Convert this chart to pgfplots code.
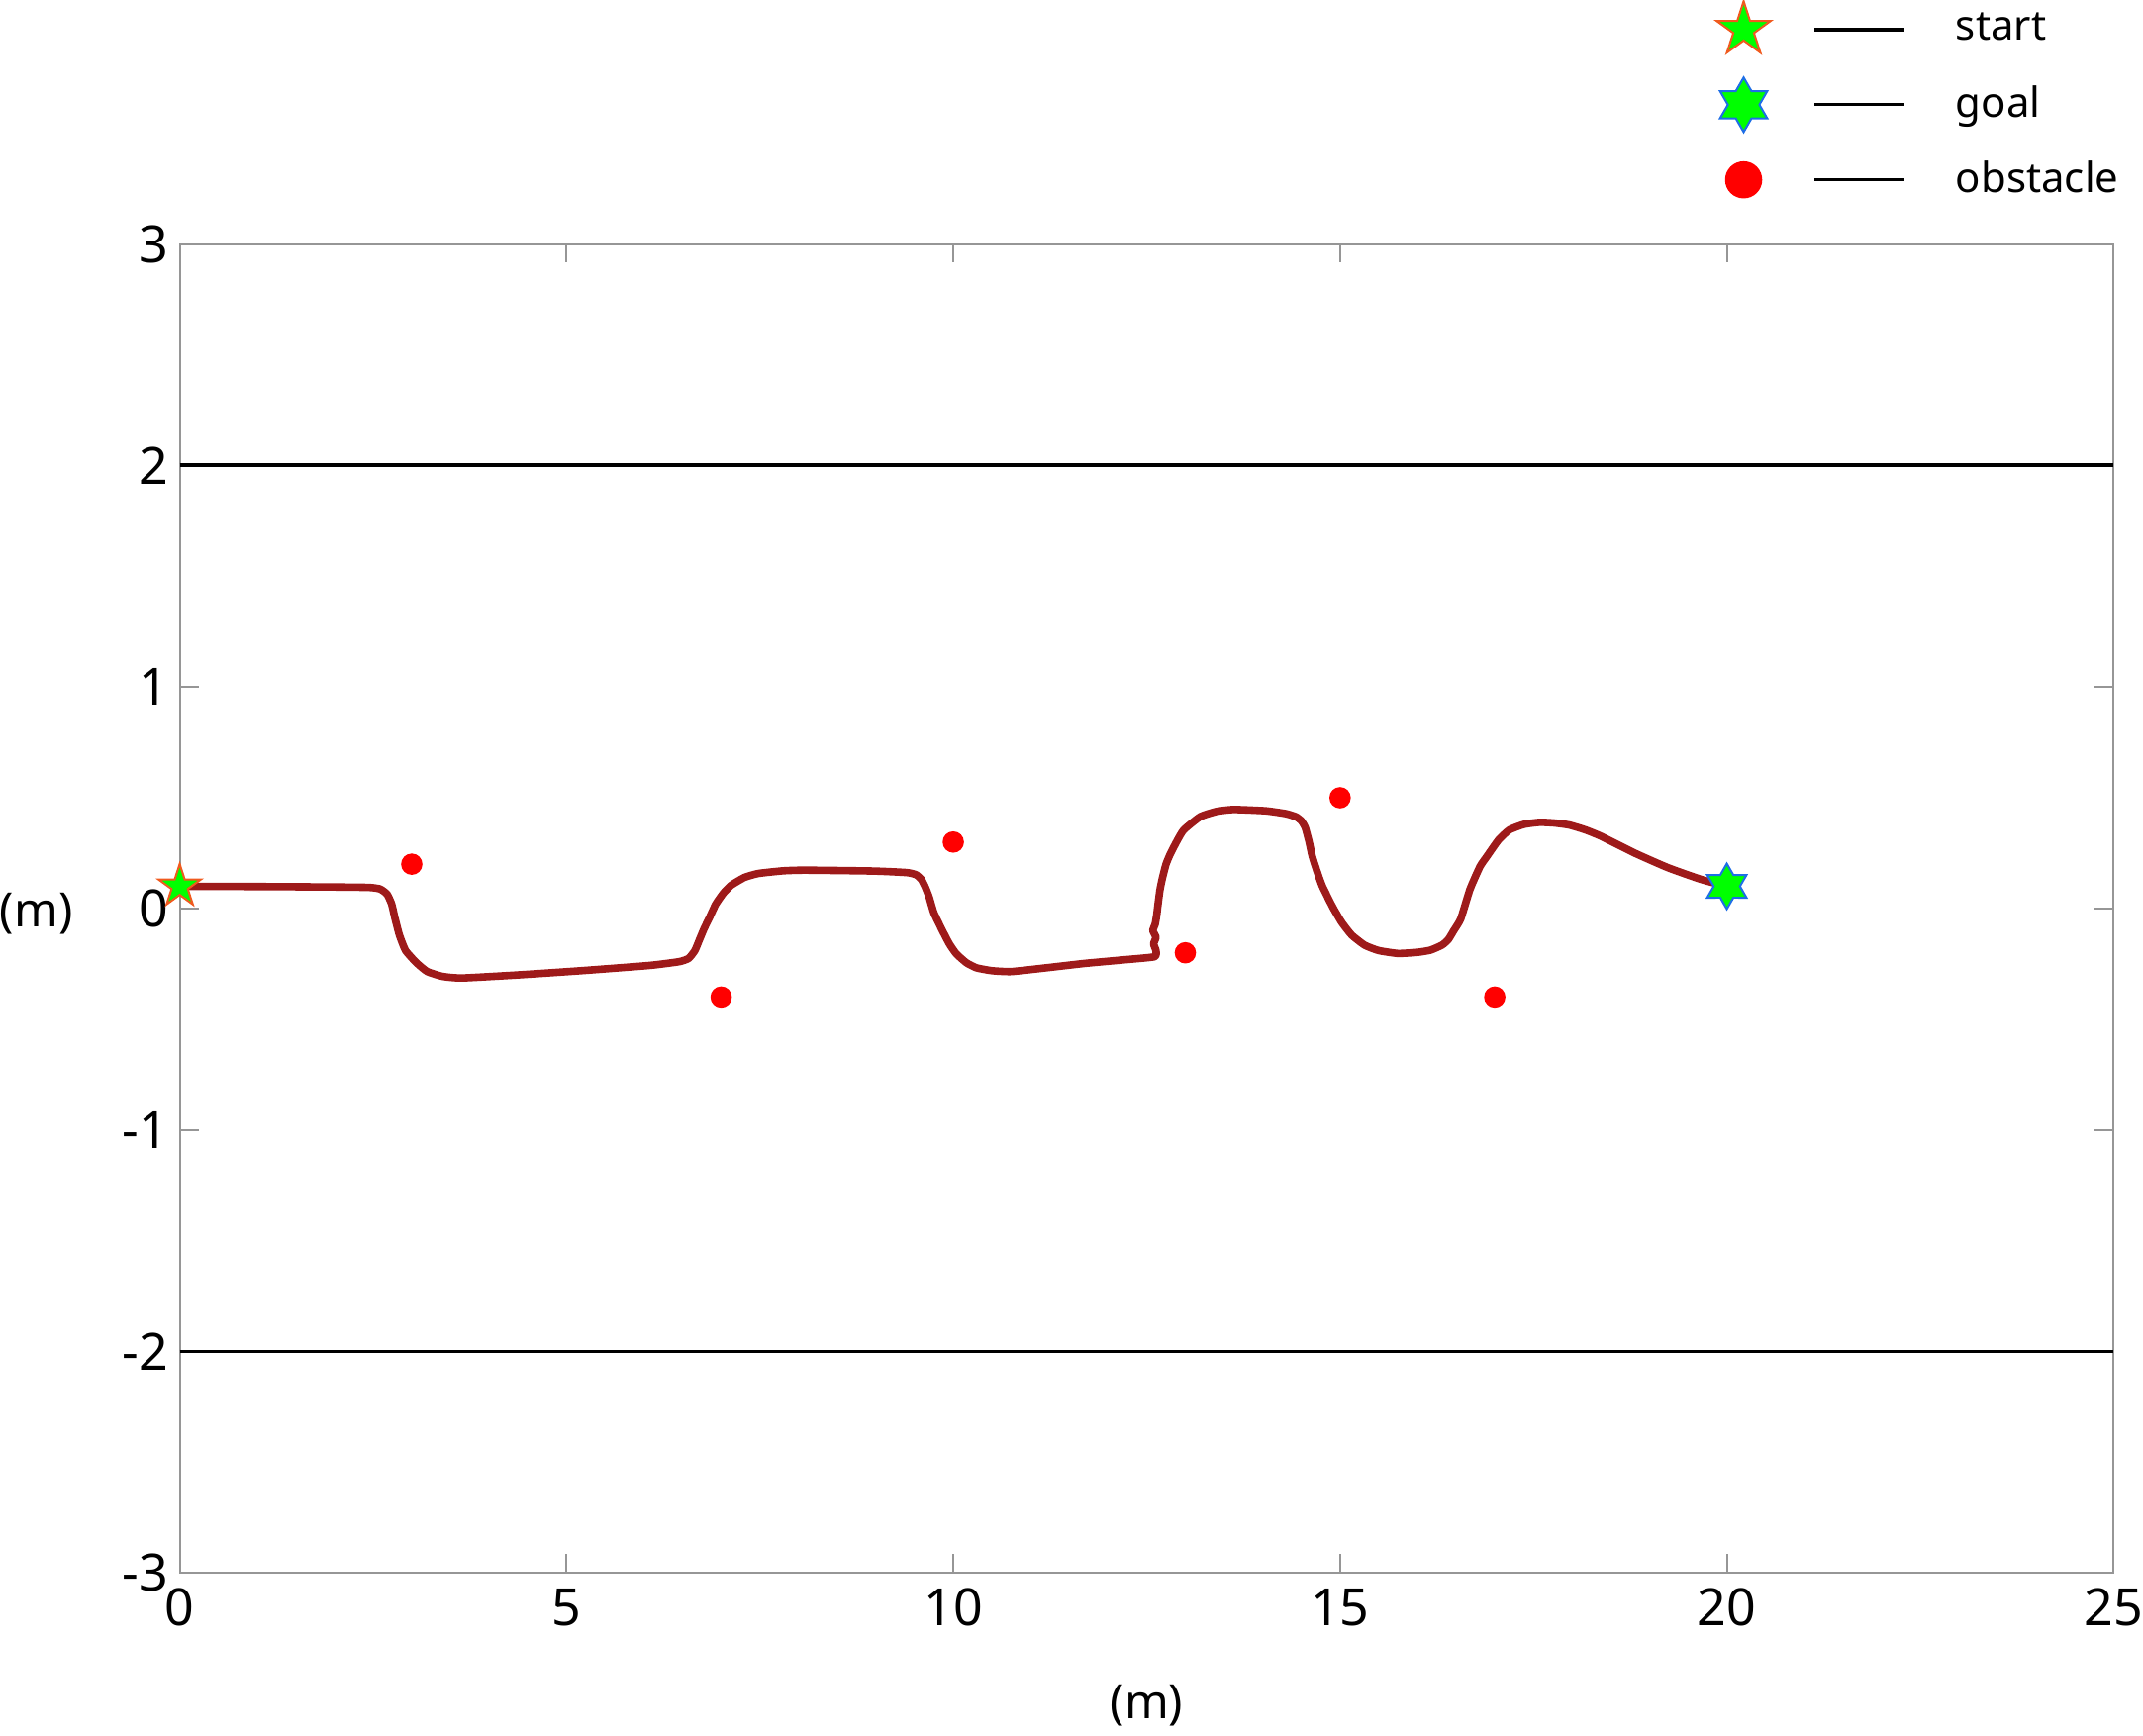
\documentclass[border=0pt]{standalone}
\usepackage{fontspec}
\setmainfont{Noto Sans}
\usepackage{pgfplots}
\pgfplotsset{compat=1.18}

\definecolor{pathred}{RGB}{158,26,26}
\definecolor{obsred}{RGB}{255,0,0}
\definecolor{stargreen}{RGB}{0,255,0}
\definecolor{startedge}{RGB}{240,90,30}
\definecolor{goaledge}{RGB}{30,110,230}
\definecolor{framegray}{RGB}{150,150,150}

% filled five-point star
\pgfdeclareplotmark{pentastar}{%
  \pgfpathmoveto{\pgfpointpolar{90}{\pgfplotmarksize}}%
  \pgfpathlineto{\pgfpointpolar{126}{0.382*\pgfplotmarksize}}%
  \pgfpathlineto{\pgfpointpolar{162}{\pgfplotmarksize}}%
  \pgfpathlineto{\pgfpointpolar{198}{0.382*\pgfplotmarksize}}%
  \pgfpathlineto{\pgfpointpolar{234}{\pgfplotmarksize}}%
  \pgfpathlineto{\pgfpointpolar{270}{0.382*\pgfplotmarksize}}%
  \pgfpathlineto{\pgfpointpolar{306}{\pgfplotmarksize}}%
  \pgfpathlineto{\pgfpointpolar{342}{0.382*\pgfplotmarksize}}%
  \pgfpathlineto{\pgfpointpolar{18}{\pgfplotmarksize}}%
  \pgfpathlineto{\pgfpointpolar{54}{0.382*\pgfplotmarksize}}%
  \pgfpathclose
  \pgfusepathqfillstroke
}
% filled six-point star
\pgfdeclareplotmark{hexastar}{%
  \pgfpathmoveto{\pgfpointpolar{90}{\pgfplotmarksize}}%
  \pgfpathlineto{\pgfpointpolar{120}{0.577*\pgfplotmarksize}}%
  \pgfpathlineto{\pgfpointpolar{150}{\pgfplotmarksize}}%
  \pgfpathlineto{\pgfpointpolar{180}{0.577*\pgfplotmarksize}}%
  \pgfpathlineto{\pgfpointpolar{210}{\pgfplotmarksize}}%
  \pgfpathlineto{\pgfpointpolar{240}{0.577*\pgfplotmarksize}}%
  \pgfpathlineto{\pgfpointpolar{270}{\pgfplotmarksize}}%
  \pgfpathlineto{\pgfpointpolar{300}{0.577*\pgfplotmarksize}}%
  \pgfpathlineto{\pgfpointpolar{330}{\pgfplotmarksize}}%
  \pgfpathlineto{\pgfpointpolar{0}{0.577*\pgfplotmarksize}}%
  \pgfpathlineto{\pgfpointpolar{30}{\pgfplotmarksize}}%
  \pgfpathlineto{\pgfpointpolar{60}{0.577*\pgfplotmarksize}}%
  \pgfpathclose
  \pgfusepathqfillstroke
}

\begin{document}
\begin{tikzpicture}
\begin{axis}[
    scale only axis,
    width=489.25pt,
    height=336.25pt,
    xmin=0, xmax=25,
    ymin=-3, ymax=3,
    xtick={0,5,10,15,20,25},
    ytick={-3,-2,-1,0,1,2,3},
    axis line style={framegray, line width=0.5pt},
    tick style={framegray, line width=0.5pt},
    tick align=inside,
    major tick length=4.75pt,
    /pgf/number format/assume math mode=true,
    tick label style={font=\fontsize{13}{15}\selectfont, black},
    xticklabel style={inner sep=0pt, yshift=-3.75pt},
    yticklabel style={inner sep=0pt, xshift=-2.75pt},
    xlabel={(m)},
    ylabel={(m)},
    label style={font=\fontsize{12}{14}\selectfont},
    xlabel style={at={(axis description cs:0.5,-0.0996)}, anchor=center, inner sep=2.5pt},
    ylabel style={rotate=-90, at={(axis description cs:-0.0741,0.496)}, anchor=center, inner sep=0pt},
    legend cell align=left,
    legend style={at={(axis description cs:0.7947,1.1836)}, anchor=north west,
        draw=none, fill=none, inner sep=0pt, outer sep=0pt,
        row sep=4pt, column sep=0pt,
        nodes={inner sep=0pt},
        font=\fontsize{10.5}{12}\selectfont},
]

% start
\addplot[only marks, mark=pentastar, mark size=5.65pt,
    mark options={fill=stargreen, draw=startedge, line width=0.5pt},
    legend image code/.code={
        \path (0pt,-7.3pt) (0pt,7.3pt) (53.5pt,0pt);
        \draw[black, line width=0.8pt] (18pt,0pt) -- (40.75pt,0pt);
        \draw[mark=pentastar, mark size=7.2pt, mark options={fill=stargreen, draw=startedge, line width=0.5pt}] plot coordinates {(0pt,0pt)};
    }] coordinates {(0,0.1)};
\addlegendentry{start}

% goal
\addplot[only marks, mark=hexastar, mark size=5.75pt,
    mark options={fill=stargreen, draw=goaledge, line width=0.5pt},
    legend image code/.code={
        \path (0pt,-7.3pt) (0pt,7.3pt) (53.5pt,0pt);
        \draw[black, line width=0.8pt] (18pt,0pt) -- (40.75pt,0pt);
        \draw[mark=hexastar, mark size=6.9pt, mark options={fill=stargreen, draw=goaledge, line width=0.5pt}] plot coordinates {(0pt,0pt)};
    }] coordinates {(20,0.1)};
\addlegendentry{goal}

% obstacles
\addplot[only marks, mark=*, mark size=2.5pt,
    mark options={fill=obsred, draw=obsred},
    legend image code/.code={
        \path (0pt,-7.3pt) (0pt,7.3pt) (53.5pt,0pt);
        \draw[black, line width=0.8pt] (18pt,0pt) -- (40.75pt,0pt);
        \draw[mark=*, mark size=4.5pt, mark options={fill=obsred, draw=obsred}] plot coordinates {(0pt,0pt)};
    }] coordinates {
    (3,0.2) (7,-0.4) (10,0.3) (13,-0.2) (15,0.5) (17,-0.4)
};
\addlegendentry{obstacle}

% road boundaries
\addplot[black, line width=1pt, forget plot] coordinates {(0,2) (25,2)};
\addplot[black, line width=1pt, forget plot] coordinates {(0,-2) (25,-2)};

% vehicle path
\addplot[pathred, line width=1.9pt, line join=round, smooth, tension=0.3, forget plot] coordinates {
    (0,0.1) (1,0.099) (2,0.097) (2.45,0.095) (2.59,0.088) (2.68,0.065)
    (2.74,0.02) (2.78,-0.04) (2.84,-0.12) (2.92,-0.19) (3.06,-0.245)
    (3.2,-0.285) (3.4,-0.307) (3.65,-0.314) (4.38,-0.30) (5.23,-0.28)
    (6.08,-0.257) (6.46,-0.24) (6.58,-0.225) (6.66,-0.19) (6.72,-0.14)
    (6.78,-0.09) (6.85,-0.04) (6.93,0.02) (7.03,0.07) (7.13,0.105)
    (7.3,0.14) (7.48,0.158) (7.8,0.17) (8.09,0.173) (8.97,0.169)
    (9.4,0.162) (9.52,0.152) (9.59,0.13) (9.64,0.095) (9.69,0.05)
    (9.75,-0.02) (9.86,-0.1) (9.95,-0.16) (10.04,-0.205) (10.17,-0.245)
    (10.3,-0.268) (10.5,-0.281) (10.75,-0.285) (11.2,-0.268) (11.7,-0.248)
    (12.2,-0.232) (12.6,-0.218) (12.62,-0.19) (12.59,-0.16) (12.62,-0.13)
    (12.58,-0.1) (12.61,-0.07) (12.63,-0.03) (12.64,0.0) (12.67,0.08)
    (12.70,0.132) (12.75,0.2) (12.81,0.25) (12.9,0.31) (12.98,0.355)
    (13.19,0.414) (13.4,0.438) (13.62,0.447) (14.04,0.441) (14.3,0.428)
    (14.43,0.414) (14.5,0.395) (14.55,0.365) (14.6,0.3) (14.64,0.236)
    (14.7,0.17) (14.77,0.102) (14.9,0.01) (15.02,-0.062) (15.15,-0.12)
    (15.32,-0.166) (15.5,-0.19) (15.75,-0.203) (16.0,-0.198) (16.17,-0.188)
    (16.32,-0.165) (16.4,-0.14) (16.47,-0.1) (16.56,-0.047) (16.68,0.087)
    (16.81,0.19) (16.9,0.236) (17.05,0.31) (17.19,0.355) (17.38,0.38)
    (17.58,0.389) (17.77,0.386) (17.96,0.377) (18.17,0.355) (18.38,0.325)
    (18.81,0.25) (19.24,0.184) (19.66,0.132) (20.0,0.1)
};

\end{axis}
\end{tikzpicture}
\end{document}
